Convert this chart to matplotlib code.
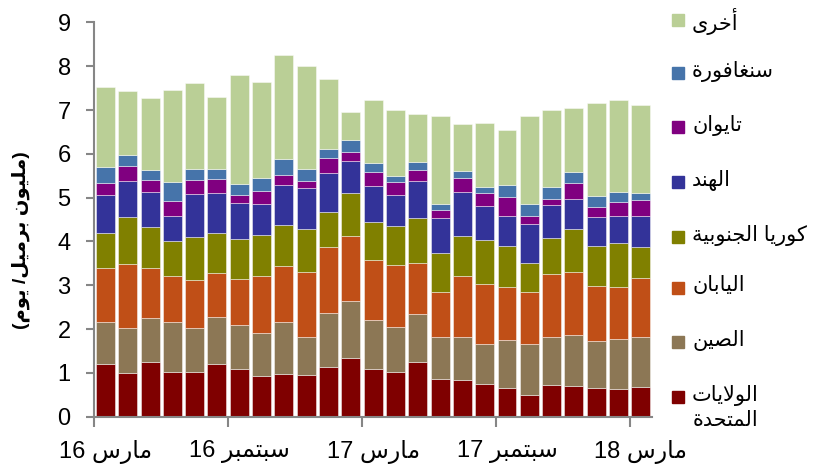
import re

import matplotlib
matplotlib.use("Agg")
import matplotlib.pyplot as plt
import numpy as np
from matplotlib.patches import Rectangle

# monthly crude imports by destination, mar 2016 .. mar 2018 (million b/d)
us = [1.20, 0.99, 1.26, 1.03, 1.03, 1.21, 1.10, 0.94, 0.97, 0.95, 1.14, 1.35, 1.09,
      1.03, 1.26, 0.86, 0.84, 0.75, 0.66, 0.50, 0.73, 0.70, 0.66, 0.64, 0.68]
china = [0.97, 1.04, 0.99, 1.14, 0.99, 1.07, 0.99, 0.96, 1.20, 0.88, 1.23, 1.28, 1.11,
         1.01, 1.08, 0.97, 0.99, 0.90, 1.09, 1.15, 1.10, 1.16, 1.06, 1.14, 1.14]
japan = [1.23, 1.46, 1.15, 1.05, 1.09, 1.01, 1.05, 1.32, 1.28, 1.47, 1.50, 1.50, 1.38,
         1.42, 1.16, 1.01, 1.39, 1.39, 1.20, 1.19, 1.43, 1.45, 1.27, 1.17, 1.34]
korea = [0.79, 1.07, 0.92, 0.78, 1.00, 0.90, 0.91, 0.93, 0.93, 0.98, 0.81, 0.97, 0.87,
         0.90, 1.03, 0.89, 0.90, 0.99, 0.94, 0.66, 0.81, 0.97, 0.90, 1.01, 0.72]
india = [0.86, 0.81, 0.82, 0.59, 0.97, 0.91, 0.82, 0.70, 0.90, 0.93, 0.88, 0.74, 0.82,
         0.70, 0.86, 0.81, 1.01, 0.79, 0.69, 0.91, 0.76, 0.68, 0.67, 0.63, 0.71]
taiwan = [0.28, 0.36, 0.26, 0.33, 0.32, 0.33, 0.20, 0.30, 0.24, 0.18, 0.35, 0.21, 0.32,
          0.29, 0.24, 0.18, 0.33, 0.28, 0.44, 0.18, 0.15, 0.37, 0.23, 0.32, 0.36]
singapore = [0.36, 0.24, 0.24, 0.44, 0.25, 0.22, 0.24, 0.31, 0.36, 0.26, 0.21, 0.27, 0.20,
             0.15, 0.18, 0.14, 0.14, 0.14, 0.27, 0.26, 0.26, 0.26, 0.25, 0.22, 0.16]
other = [1.84, 1.47, 1.64, 2.09, 1.96, 1.64, 2.49, 2.17, 2.37, 2.35, 1.58, 0.63, 1.43,
         1.49, 1.10, 2.01, 1.08, 1.46, 1.25, 2.01, 1.77, 1.45, 2.12, 2.11, 2.00]

series_names = ["الولايات\nالمتحدة", "الصين", "اليابان", "كوريا الجنوبية",
                "الهند", "تايوان", "سنغافورة", "أخرى"]
series_colors = ["#7F0000", "#8C7755", "#C04F17", "#808000",
                 "#333399", "#800080", "#4674AA", "#BACF96"]

tick_pos = [0, 6, 12, 18, 24]
tick_labels = ["مارس 16", "سبتمبر 16", "مارس 17", "سبتمبر 17", "مارس 18"]
ylabel = "(مليون برميل/ يوم)"

FONT = ["Liberation Sans", "DejaVu Sans"]
AXIS_GRAY = "#868686"

# matplotlib does no arabic shaping / bidi, so map letters to their
# presentation forms (isolated, final, initial, medial) and lay them out RTL
FORMS = {
    "\u0627": (0xFE8D, 0xFE8E, None, None),
    "\u0623": (0xFE83, 0xFE84, None, None),
    "\u0628": (0xFE8F, 0xFE90, 0xFE91, 0xFE92),
    "\u0629": (0xFE93, 0xFE94, None, None),
    "\u062A": (0xFE95, 0xFE96, 0xFE97, 0xFE98),
    "\u062C": (0xFE9D, 0xFE9E, 0xFE9F, 0xFEA0),
    "\u062D": (0xFEA1, 0xFEA2, 0xFEA3, 0xFEA4),
    "\u062E": (0xFEA5, 0xFEA6, 0xFEA7, 0xFEA8),
    "\u062F": (0xFEA9, 0xFEAA, None, None),
    "\u0631": (0xFEAD, 0xFEAE, None, None),
    "\u0633": (0xFEB1, 0xFEB2, 0xFEB3, 0xFEB4),
    "\u0635": (0xFEB9, 0xFEBA, 0xFEBB, 0xFEBC),
    "\u063A": (0xFECD, 0xFECE, 0xFECF, 0xFED0),
    "\u0641": (0xFED1, 0xFED2, 0xFED3, 0xFED4),
    "\u0643": (0xFED9, 0xFEDA, 0xFEDB, 0xFEDC),
    "\u0644": (0xFEDD, 0xFEDE, 0xFEDF, 0xFEE0),
    "\u0645": (0xFEE1, 0xFEE2, 0xFEE3, 0xFEE4),
    "\u0646": (0xFEE5, 0xFEE6, 0xFEE7, 0xFEE8),
    "\u0647": (0xFEE9, 0xFEEA, 0xFEEB, 0xFEEC),
    "\u0648": (0xFEED, 0xFEEE, None, None),
    "\u0649": (0xFEEF, 0xFEF0, None, None),
    "\u064A": (0xFEF1, 0xFEF2, 0xFEF3, 0xFEF4),
}
LAM_ALEF = {"\u0627": (0xFEFB, 0xFEFC), "\u0623": (0xFEF7, 0xFEF8)}
MIRROR = {"(": ")", ")": "("}


def shape_line(s):
    out = []
    i = 0
    while i < len(s):
        c = s[i]
        if c not in FORMS:
            out.append(c)
            i += 1
            continue
        prev_joins = i > 0 and s[i - 1] in FORMS and FORMS[s[i - 1]][2] is not None
        if c == "\u0644" and i + 1 < len(s) and s[i + 1] in LAM_ALEF:
            lig = LAM_ALEF[s[i + 1]]
            out.append(chr(lig[1] if prev_joins else lig[0]))
            i += 2
            continue
        iso, fin, ini, med = FORMS[c]
        next_joins = ini is not None and i + 1 < len(s) and s[i + 1] in FORMS
        if prev_joins and next_joins:
            g = med
        elif prev_joins:
            g = fin
        elif next_joins:
            g = ini
        else:
            g = iso
        out.append(chr(g))
        i += 1
    vis = "".join(MIRROR.get(ch, ch) for ch in reversed(out))
    # digits keep their own left-to-right order
    return re.sub(r"[0-9]+", lambda m: m.group(0)[::-1], vis)


def ar(s):
    return "\n".join(shape_line(line) for line in s.split("\n"))


def main():
    plt.rcParams["font.family"] = FONT
    fig = plt.figure(figsize=(8.14, 4.67), dpi=100)
    ax = fig.add_axes([0.1158, 0.1077, 0.6852, 0.8443])

    data = [us, china, japan, korea, india, taiwan, singapore, other]
    x = np.arange(len(us))
    bottom = np.zeros(len(us))
    for vals, col in zip(data, series_colors):
        ax.bar(x, vals, bottom=bottom, width=0.85, color=col,
               edgecolor=(1, 1, 1, 0.45), linewidth=0.7)
        bottom += np.array(vals)

    ax.set_xlim(-0.5, len(us) - 0.5)
    ax.set_ylim(0, 9)
    ax.set_yticks(range(10))
    ax.tick_params(axis="y", labelsize=17, length=6, width=1.5, color=AXIS_GRAY, pad=11)

    # ticks sit between bars, labels under the bar
    ax.set_xticks([p - 0.5 for p in tick_pos])
    ax.set_xticklabels([])
    ax.tick_params(axis="x", which="major", length=7, width=1.5, color=AXIS_GRAY)
    ax.set_xticks(tick_pos, minor=True)
    ax.set_xticklabels([ar(t) for t in tick_labels], minor=True)
    ax.tick_params(axis="x", which="minor", length=0, labelsize=17, pad=17)

    for side in ("top", "right"):
        ax.spines[side].set_visible(False)
    for side in ("left", "bottom"):
        ax.spines[side].set_color(AXIS_GRAY)
        ax.spines[side].set_linewidth(1.5)

    fig.text(0.025, 0.486, ar(ylabel), rotation=90, ha="center", va="center",
             fontsize=14, fontweight="bold")

    # legend, top entry first
    W, H = 814.0, 467.0
    ys = [20, 73, 127, 182, 237, 288, 342, 397]
    for i, (name, col) in enumerate(zip(series_names[::-1], series_colors[::-1])):
        yc = ys[i]
        fig.add_artist(Rectangle((672 / W, 1 - (yc + 6) / H), 12 / W, 12 / H,
                                 transform=fig.transFigure, color=col))
        fig.text(692 / W, 1 - (yc - 12) / H, ar(name), ha="left", va="top",
                 fontsize=15, linespacing=1.3, multialignment="center")

    fig.savefig("out.png", dpi=100)
    plt.close(fig)


if __name__ == "__main__":
    main()
